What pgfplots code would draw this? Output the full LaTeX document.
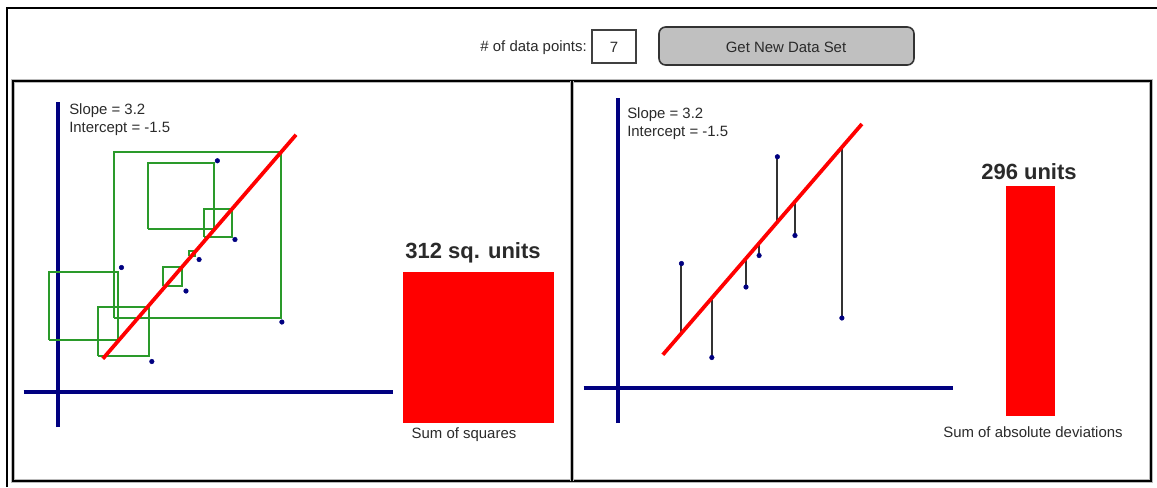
\documentclass[border=0pt]{standalone}
\usepackage{pgfplots}
\pgfplotsset{compat=1.18}
\usepackage{fontspec}
\setmainfont{Liberation Sans}

\definecolor{axisblue}{HTML}{000080}
\definecolor{sqgreen}{HTML}{2A9A2A}
\definecolor{btngray}{HTML}{C0C0C0}
\definecolor{txt}{HTML}{2A2A2A}

% one pixel of the screenshot = 0.75pt
\pgfplotsset{
  scatterpanel/.style={
    scale only axis,
    width=276.86pt, height=243.75pt,
    xmin=-1, xmax=9.7, ymin=-2.8, ymax=23.2,
    axis lines=middle,
    axis line style={-, draw=axisblue, line width=2.9pt},
    every inner x axis line/.append style={-},
    every inner y axis line/.append style={-},
    xtick=\empty, ytick=\empty,
    anchor=south west,
    clip=false,
  },
  barpanel/.style={
    scale only axis, hide axis, anchor=south west,
    xmin=-0.5, xmax=0.5, ymin=0, clip=false,
  },
  sq/.style={sqgreen, line width=1.4pt},
  dev/.style={black!80, line width=1.5pt},
  fit/.style={red, line width=2.8pt, no markers},
  pts/.style={only marks, mark=*, mark size=1.7pt, axisblue},
}

% the seven data points
\pgfplotstableread{
x y
1.84 9.96
2.72 2.44
3.71 8.08
4.09 10.60
4.62 18.50
5.13 12.20
6.49 5.60
}\points

\begin{document}
\begin{tikzpicture}[x=0.75pt, y=-0.75pt]
\fontsize{11.2}{13}\selectfont

% frames
\draw[black, line width=2.2pt] (7,487) -- (7,8) -- (1157,8);
\draw[gray!55, line width=3.6pt] (13,81) rectangle (1151,481);
\draw[black, line width=1.7pt] (13,81) rectangle (1151,481);
\draw[gray!55, line width=3.6pt] (572,81) -- (572,481);
\draw[black, line width=1.7pt] (572,81) -- (572,481);

% header controls
\node[anchor=east, text=txt, inner sep=0pt] at (587,48) {\# of data points:};
\draw[black!75, line width=0.8pt] (592,30) rectangle (636,63);
\node[text=txt] at (614,47) {7};
\draw[black!80, fill=btngray, line width=1.2pt, rounded corners=5pt] (659,27) rectangle (914,65);
\node[text=txt] at (786,47) {Get New Data Set};

% anchor points of the four axes (screen pixels)
\coordinate (LS) at (23.5,427);
\coordinate (LB) at (403,422.5);
\coordinate (RS) at (583.5,423);
\coordinate (RB) at (1006,416);

% ---- left panel: least squares ----
\begin{axis}[scatterpanel, at={(LS)}]
  \addplot[sq] coordinates {(2.61,13.04)(4.52,13.04)(4.52,18.32)(2.61,18.32)(2.61,13.04)};
  \addplot[sq] coordinates {(4.23,12.40)(5.04,12.40)(5.04,14.64)(4.23,14.64)(4.23,12.40)};
  \addplot[sq] coordinates {(3.80,10.88)(3.97,10.88)(3.97,11.28)(3.80,11.28)(3.80,10.88)};
  \addplot[sq] coordinates {(3.04,8.48)(3.59,8.48)(3.59,10.00)(3.04,10.00)(3.04,8.48)};
  \addplot[sq] coordinates {(-0.26,4.16)(1.74,4.16)(1.74,9.60)(-0.26,9.60)(-0.26,4.16)};
  \addplot[sq] coordinates {(1.62,5.92)(6.46,5.92)(6.46,19.20)(1.62,19.20)(1.62,5.92)};
  \addplot[sq] coordinates {(1.16,2.88)(2.64,2.88)(2.64,6.80)(1.16,6.80)(1.16,2.88)};
  \addplot[fit] coordinates {(1.30,2.66)(6.90,20.58)};
  \addplot[pts] table {\points};
\end{axis}
\node[anchor=west, text=txt, inner sep=0pt] at (69,111) {Slope = 3.2};
\node[anchor=west, text=txt, inner sep=0pt] at (69,129) {Intercept = -1.5};

\begin{axis}[barpanel, at={(LB)}, width=113.25pt, height=113.25pt, ymax=312]
  \addplot[ybar, bar width=113.25pt, fill=red, draw=none] coordinates {(0,312)};
\end{axis}
\node[text=txt, font=\fontsize{16.5}{18}\selectfont\bfseries] at (473,253) {312 sq. units};
\node[text=txt] at (464,435) {Sum of squares};

% ---- right panel: absolute deviations ----
\begin{axis}[scatterpanel, at={(RS)}]
  \addplot[dev] coordinates {(1.84,9.96)(1.84,4.39)};
  \addplot[dev] coordinates {(2.72,2.44)(2.72,7.20)};
  \addplot[dev] coordinates {(3.71,8.08)(3.71,10.37)};
  \addplot[dev] coordinates {(4.09,10.60)(4.09,11.59)};
  \addplot[dev] coordinates {(4.62,18.50)(4.62,13.28)};
  \addplot[dev] coordinates {(5.13,12.20)(5.13,14.92)};
  \addplot[dev] coordinates {(6.49,5.60)(6.49,19.27)};
  \addplot[fit] coordinates {(1.30,2.66)(7.07,21.12)};
  \addplot[pts] table {\points};
\end{axis}
\node[anchor=west, text=txt, inner sep=0pt] at (627,115) {Slope = 3.2};
\node[anchor=west, text=txt, inner sep=0pt] at (627,133) {Intercept = -1.5};

\begin{axis}[barpanel, at={(RB)}, width=36.75pt, height=172.5pt, ymax=296]
  \addplot[ybar, bar width=36.75pt, fill=red, draw=none] coordinates {(0,296)};
\end{axis}
\node[text=txt, font=\fontsize{16.5}{18}\selectfont\bfseries] at (1029,172) {296 units};
\node[text=txt] at (1033,432) {Sum of absolute deviations};

\pgfresetboundingbox
\path (0,0) rectangle (1157,487);
\end{tikzpicture}
\end{document}
